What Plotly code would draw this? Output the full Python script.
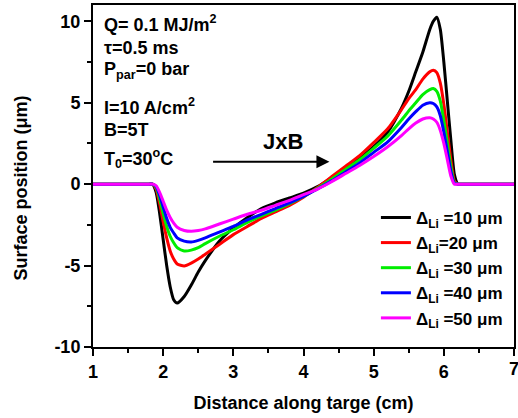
import plotly.graph_objects as go

# ---- data ----
x_cm = [1.0, 1.5, 1.8, 1.85, 1.9, 1.95, 2.0, 2.05, 2.1, 2.15, 2.2, 2.3, 2.4, 2.5, 2.6, 2.8, 3.0,
        3.2, 3.4, 3.6, 3.8, 4.0, 4.2, 4.4, 4.6, 4.8, 5.0, 5.2, 5.4, 5.5, 5.6, 5.7,
        5.8, 5.85, 5.9, 5.95, 6.0, 6.05, 6.1, 6.15, 6.2, 6.25, 6.5, 7.0]

y_10 = [0, 0, 0, 0, -0.5, -1.8, -3.4, -5.0, -6.3, -7.1, -7.3, -6.9, -6.2, -5.4, -4.7, -3.5, -2.7,
        -2.05, -1.5, -1.15, -0.85, -0.55, -0.15, 0.4, 1.0, 1.6, 2.3, 3.2, 4.7, 5.7, 6.9, 8.1,
        9.5, 10.0, 10.25, 9.5, 7.5, 5.1, 2.7, 0.6, 0, 0, 0, 0]
y_20 = [0, 0, 0, 0, -0.3, -1.2, -2.3, -3.3, -4.1, -4.6, -4.9, -5.02, -4.85, -4.6, -4.3, -3.7, -3.1,
        -2.6, -2.1, -1.7, -1.3, -0.8, -0.2, 0.45, 1.1, 1.75, 2.55, 3.4, 4.6, 5.25, 5.8, 6.45,
        6.9, 7.0, 6.85, 6.2, 4.9, 3.2, 1.5, 0.2, 0, 0, 0, 0]
y_30 = [0, 0, 0, 0, -0.2, -0.9, -1.8, -2.6, -3.2, -3.6, -3.9, -4.1, -4.05, -3.9, -3.65, -3.2, -2.8,
        -2.35, -1.95, -1.6, -1.2, -0.75, -0.25, 0.3, 0.9, 1.5, 2.2, 2.95, 3.95, 4.5, 5.0, 5.5,
        5.8, 5.87, 5.7, 5.1, 3.9, 2.5, 1.1, 0.1, 0, 0, 0, 0]
y_40 = [0, 0, 0, 0, -0.15, -0.7, -1.4, -2.1, -2.65, -3.0, -3.3, -3.5, -3.55, -3.45, -3.3, -2.95, -2.6,
        -2.2, -1.85, -1.5, -1.15, -0.75, -0.3, 0.2, 0.75, 1.3, 1.95, 2.6, 3.5, 4.0, 4.45, 4.85,
        5.0, 4.95, 4.75, 4.2, 3.2, 2.0, 0.8, 0.05, 0, 0, 0, 0]
y_50 = [0, 0, 0, 0, -0.1, -0.5, -1.05, -1.6, -2.05, -2.4, -2.65, -2.85, -2.9, -2.85, -2.75, -2.45, -2.15,
        -1.85, -1.6, -1.3, -1.0, -0.65, -0.3, 0.15, 0.65, 1.15, 1.7, 2.3, 3.0, 3.4, 3.75, 4.0,
        4.08, 4.0, 3.8, 3.3, 2.5, 1.5, 0.5, 0.0, 0, 0, 0, 0]

series_names = ["Δ<sub>Li</sub> =10 μm", "Δ<sub>Li</sub>=20 μm", "Δ<sub>Li</sub> =30 μm",
                "Δ<sub>Li</sub> =40 μm", "Δ<sub>Li</sub> =50 μm"]
series_values = [y_10, y_20, y_30, y_40, y_50]
series_colors = ["#000000", "#ff0000", "#00ee00", "#0000ff", "#ff00ff"]

x_ticks = [1, 2, 3, 4, 5, 6, 7]
x_tick_labels = ["1", "2", "3", "4", "5", "6", ""]
x_edge_label = "7"
y_ticks = [-10, -5, 0, 5, 10]
y_tick_labels = ["-10", "-5", "0", "5", "10"]

info_lines = ["Q= 0.1 MJ/m<sup>2</sup>", "τ=0.5 ms", "P<sub>par</sub>=0 bar",
              "I=10 A/cm<sup>2</sup>", "B=5T", "T<sub>0</sub>=30<sup>o</sup>C"]
info_y = [9.85, 8.35, 6.95, 4.75, 3.3, 1.6]

FONT = "Liberation Sans, Arial, sans-serif"
TICKFONT = dict(family=FONT, size=18, color="black", weight="bold")

fig = go.Figure()
for name, vals, col in zip(series_names, series_values, series_colors):
    fig.add_trace(go.Scatter(x=x_cm, y=vals, mode="lines", name=name,
                             line=dict(color=col, width=3, shape="spline", smoothing=0.6)))

for txt, yy in zip(info_lines, info_y):
    fig.add_annotation(x=1.13, y=yy, xref="x", yref="y", text=txt, showarrow=False,
                       xanchor="left", yanchor="middle",
                       font=dict(family=FONT, size=18, color="black", weight="bold"))

fig.add_annotation(x=3.71, y=2.6, xref="x", yref="y", text="JxB", showarrow=False,
                   xanchor="center", yanchor="middle",
                   font=dict(family=FONT, size=22, color="black", weight="bold"))
fig.add_annotation(x=4.37, y=1.37, ax=2.69, ay=1.37, xref="x", yref="y", axref="x", ayref="y",
                   text="", showarrow=True, arrowhead=2, arrowsize=1.3, arrowwidth=2,
                   arrowcolor="black", standoff=0)

# y axis title placed as rotated text
fig.add_annotation(x=-0.172, y=0.465, xref="paper", yref="paper",
                   text="Surface position (μm)", showarrow=False, textangle=-90,
                   xanchor="center", yanchor="middle",
                   font=dict(family=FONT, size=18, color="black", weight="bold"))

# last x tick label sits at the page edge
fig.add_annotation(x=7, y=-0.064, xref="x", yref="paper", text=x_edge_label,
                   showarrow=False, xanchor="center", yanchor="middle", font=TICKFONT)

axis_common = dict(showline=True, linecolor="black", linewidth=2, mirror=True,
                   ticks="outside", ticklen=7, tickwidth=2, tickcolor="black",
                   showgrid=False, zeroline=False, tickfont=TICKFONT)

fig.update_xaxes(range=[1, 7], tickvals=x_ticks, ticktext=x_tick_labels,
                 minor=dict(ticks="outside", dtick=0.5, ticklen=4, tickwidth=2, tickcolor="black"),
                 title=dict(text="Distance along targe (cm)", standoff=16,
                            font=dict(family=FONT, size=18, color="black", weight="bold")),
                 **axis_common)
fig.update_yaxes(range=[-10, 11], tickvals=y_ticks, ticktext=y_tick_labels,
                 minor=dict(ticks="outside", tickvals=[-7.5, -2.5, 2.5, 7.5], ticklen=4,
                            tickwidth=2, tickcolor="black"),
                 **axis_common)

fig.update_layout(
    width=518, height=418,
    margin=dict(l=93, r=4, t=5, b=71, autoexpand=False),
    paper_bgcolor="white", plot_bgcolor="white",
    showlegend=True,
    legend=dict(x=0.672, y=0.43, xanchor="left", yanchor="top",
                bgcolor="rgba(0,0,0,0)", borderwidth=0, tracegroupgap=0,
                font=dict(family=FONT, size=17, color="black", weight="bold")),
)

fig.write_html("out.html")
